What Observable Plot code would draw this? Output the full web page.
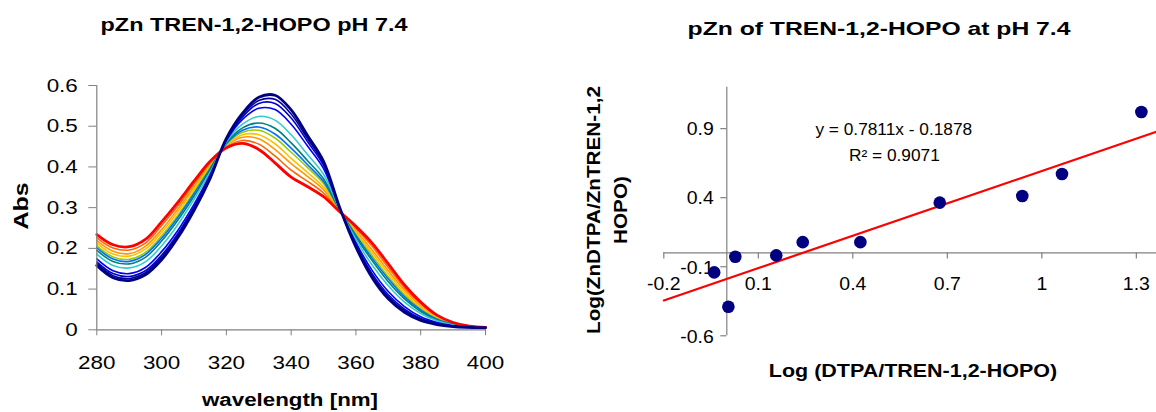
<!DOCTYPE html>
<html><head><meta charset="utf-8">
<script src="https://cdn.jsdelivr.net/npm/d3@7"></script>
<script src="https://cdn.jsdelivr.net/npm/@observablehq/plot@0.6"></script>
<style>
body{margin:0;background:#fff;}
#wrap{position:relative;width:1156px;height:412px;overflow:hidden;font-family:Arial,"Liberation Sans",sans-serif;color:#000;}
.t{position:absolute;white-space:nowrap;font-weight:bold;line-height:1;}
#c1,#c2{position:absolute;top:0;}
#c1{left:0}
#c2{left:560px}
</style></head><body><div id="wrap">
<div id="c1"></div><div id="c2"></div>
<div class="t" style="left:254px;top:15.8px;font-size:18px;transform:translateX(-50%) scaleX(1.3)">pZn TREN-1,2-HOPO pH 7.4</div>
<div class="t" style="left:879px;top:19px;font-size:19px;transform:translateX(-50%) scaleX(1.3)">pZn of TREN-1,2-HOPO at pH 7.4</div>
<div class="t" style="left:290px;top:390.8px;font-size:18px;transform:translateX(-50%) scaleX(1.24)">wavelength [nm]</div>
<div class="t" style="left:21px;top:206px;font-size:20px;transform:translate(-50%,-50%) rotate(-90deg) scaleX(1.25)">Abs</div>
<div class="t" style="left:913px;top:361px;font-size:19px;transform:translateX(-50%) scaleX(1.13)">Log (DTPA/TREN-1,2-HOPO)</div>
<div class="t" style="left:608px;top:210px;font-size:18px;line-height:27px;text-align:center;transform:translate(-50%,-50%) rotate(-90deg) scaleX(1.15)">Log(ZnDTPA/ZnTREN-1,2<br>HOPO)</div>
</div>
<script>
// ---------- Left chart data: UV-vis spectra ----------
const wavelengths = [280,285,290,295,300,305,310,315,320,325,330,335,340,345,350,355,360,365,370,375,380,385,390,395,400];
const absRed     = [0.234,0.209,0.204,0.222,0.265,0.313,0.365,0.414,0.447,0.458,0.443,0.410,0.375,0.352,0.327,0.290,0.254,0.213,0.162,0.110,0.068,0.036,0.018,0.009,0.006];
const absOrRed   = [0.226,0.201,0.196,0.213,0.256,0.304,0.358,0.410,0.449,0.465,0.456,0.427,0.392,0.365,0.336,0.291,0.249,0.205,0.153,0.103,0.064,0.034,0.017,0.009,0.006];
const absOrange  = [0.219,0.193,0.187,0.205,0.246,0.296,0.351,0.406,0.452,0.473,0.469,0.443,0.408,0.377,0.344,0.292,0.244,0.196,0.145,0.097,0.059,0.031,0.016,0.008,0.006];
const absGold    = [0.213,0.186,0.181,0.198,0.239,0.289,0.345,0.402,0.453,0.479,0.479,0.457,0.421,0.387,0.351,0.293,0.240,0.189,0.138,0.091,0.055,0.030,0.015,0.008,0.006];
const absYGreen  = [0.206,0.179,0.173,0.190,0.231,0.281,0.338,0.399,0.456,0.485,0.490,0.471,0.436,0.399,0.359,0.294,0.235,0.182,0.130,0.085,0.051,0.028,0.014,0.008,0.006];
const absSky     = [0.201,0.174,0.168,0.185,0.225,0.276,0.334,0.396,0.457,0.490,0.498,0.481,0.446,0.406,0.364,0.294,0.232,0.176,0.125,0.081,0.049,0.026,0.014,0.008,0.006];
const absTeal    = [0.195,0.168,0.162,0.178,0.218,0.269,0.328,0.393,0.459,0.496,0.508,0.495,0.459,0.416,0.371,0.295,0.228,0.170,0.118,0.076,0.045,0.024,0.013,0.007,0.006];
const absTurq    = [0.186,0.158,0.152,0.167,0.206,0.258,0.320,0.387,0.462,0.505,0.524,0.515,0.479,0.431,0.382,0.296,0.222,0.159,0.108,0.068,0.040,0.022,0.012,0.007,0.005];
const absBlue    = [0.174,0.145,0.138,0.153,0.192,0.244,0.308,0.381,0.465,0.517,0.544,0.541,0.505,0.452,0.396,0.298,0.214,0.146,0.094,0.057,0.032,0.018,0.010,0.007,0.005];
const absDkBlue  = [0.167,0.138,0.131,0.145,0.183,0.236,0.302,0.377,0.467,0.523,0.556,0.556,0.520,0.463,0.404,0.299,0.209,0.138,0.086,0.051,0.028,0.016,0.009,0.006,0.005];
const absNavy2   = [0.163,0.133,0.126,0.140,0.178,0.231,0.297,0.375,0.469,0.528,0.563,0.566,0.530,0.470,0.409,0.299,0.206,0.133,0.081,0.047,0.026,0.014,0.009,0.006,0.005];
const absNavy    = [0.158,0.128,0.121,0.135,0.172,0.226,0.293,0.372,0.470,0.532,0.571,0.576,0.540,0.478,0.414,0.300,0.203,0.128,0.076,0.043,0.023,0.013,0.008,0.006,0.005];
const wlTicks  = [280,300,320,340,360,380,400];
const absTicks = [0,0.1,0.2,0.3,0.4,0.5,0.6];
const absTickLabels = ["0","0.1","0.2","0.3","0.4","0.5","0.6"];

// drawing order (back to front), colours and widths kept separate from the data
const spectra = [absOrRed,absOrange,absGold,absYGreen,absSky,absTeal,absTurq,absBlue,absDkBlue,absNavy2,absRed,absNavy];
const spectraColors = ["#FF6600","#FF9900","#FFC000","#99CC00","#0070FF","#008080","#33CCCC","#0000FF","#0000CC","#000099","#FF0000","#000080"];
const spectraWidths = [1.6,1.6,1.6,1.6,1.6,1.6,1.6,1.6,1.6,1.6,2.8,2.8];

// ---------- Right chart data ----------
const logDTPAratio = [-0.040,0.005,0.027,0.157,0.241,0.424,0.676,0.938,1.064,1.316];
const logZnRatio   = [-0.141,-0.390,-0.028,-0.018,0.078,0.078,0.364,0.412,0.571,1.020];
const fitSlope = 0.7811, fitIntercept = -0.1878, fitR2 = 0.9071;
const xTicks = [-0.2,0.1,0.4,0.7,1,1.3];
const xTickLabels = ["-0.2","0.1","0.4","0.7","1","1.3"];
const yTicks = [-0.6,-0.1,0.4,0.9];
const yTickLabels = ["-0.6","-0.1","0.4","0.9"];

const FONT = 'Arial, "Liberation Sans", sans-serif';
const GRAY = "#808080";

// widen SVG glyphs horizontally (the reference text is stretched)
function stretchTexts(svg, k) {
  svg.querySelectorAll("text").forEach(t => {
    const w = t.getComputedTextLength();
    if (w > 0) {
      t.setAttribute("textLength", (w * k).toFixed(2));
      t.setAttribute("lengthAdjust", "spacingAndGlyphs");
    }
  });
}

// ---------- Left chart ----------
const specMarks = spectra.map((vals, i) =>
  Plot.line(wavelengths.map((w, j) => ({wl: w, abs: vals[j]})), {
    x: "wl", y: "abs", stroke: spectraColors[i], strokeWidth: spectraWidths[i], curve: "catmull-rom"
  })
);
const left = Plot.plot({
  width: 560, height: 412,
  marginLeft: 96.3, marginRight: 75, marginTop: 85, marginBottom: 82.7,
  style: {fontFamily: FONT, fontSize: "19px", background: "transparent", color: "#000"},
  x: {domain: [280, 400], ticks: wlTicks, tickSize: 6, tickPadding: 20, tickFormat: d => String(d), label: null},
  y: {domain: [0, 0.6], ticks: absTicks, tickSize: 8, tickPadding: 11, tickFormat: d => absTickLabels[absTicks.indexOf(d)] ?? d, label: null},
  marks: [
    ...specMarks,
    Plot.ruleX([280], {stroke: GRAY, strokeWidth: 1.2}),
    Plot.ruleY([0], {stroke: GRAY, strokeWidth: 1.2})
  ]
});
left.querySelectorAll('[stroke="currentColor"]').forEach(e => e.setAttribute("stroke", GRAY));
document.getElementById("c1").appendChild(left);
stretchTexts(left, 1.18);

// ---------- Right chart ----------
const xDom = [-0.2, 1.364], yDom = [-0.6, 1.2];
const W2 = 596, H2 = 412, mL = 103.3, mR = 0, mT = 86.7, mB = 76.7;
const pxX = (xDom[1]-xDom[0])/(W2-mL-mR), pxY = (yDom[1]-yDom[0])/(H2-mT-mB);
const points = logDTPAratio.map((x, i) => ({x, y: logZnRatio[i]}));
const fitLine = xDom.map(x => ({x, y: fitSlope*x + fitIntercept}));
const right = Plot.plot({
  width: W2, height: H2,
  marginLeft: mL, marginRight: mR, marginTop: mT, marginBottom: mB,
  style: {fontFamily: FONT, fontSize: "18px", background: "transparent", color: "#000", overflow: "visible"},
  x: {domain: xDom, axis: null},
  y: {domain: yDom, axis: null},
  marks: [
    Plot.ruleY([0], {stroke: GRAY, strokeWidth: 1.2}),
    Plot.ruleX([0], {y1: yDom[0], y2: yDom[1], stroke: GRAY, strokeWidth: 1.2}),
    Plot.ruleX(xTicks, {y1: 0, y2: -6*pxY, stroke: GRAY, strokeWidth: 1.2}),
    Plot.ruleY(yTicks, {x1: -6*pxX, x2: 0, stroke: GRAY, strokeWidth: 1.2}),
    Plot.text(xTicks, {x: d => d, y: 0, dy: 31.5, text: (d, i) => xTickLabels[i], fontSize: 18}),
    Plot.text(yTicks, {x: 0, y: d => d, dx: -13, dy: 1, textAnchor: "end", text: (d, i) => yTickLabels[i], fontSize: 18}),
    Plot.line(fitLine, {x: "x", y: "y", stroke: "#FF0000", strokeWidth: 2.2}),
    Plot.dot(points, {x: "x", y: "y", r: 6.3, fill: "#000080", stroke: "none"}),
    Plot.text([`y = ${fitSlope}x - ${Math.abs(fitIntercept)}`], {x: 0.53, y: 0.893, text: d => d, fontSize: 16}),
    Plot.text([`R\u00B2 = ${fitR2}`], {x: 0.532, y: 0.706, text: d => d, fontSize: 16})
  ]
});
document.getElementById("c2").appendChild(right);
stretchTexts(right, 1.08);
</script>
</body></html>
